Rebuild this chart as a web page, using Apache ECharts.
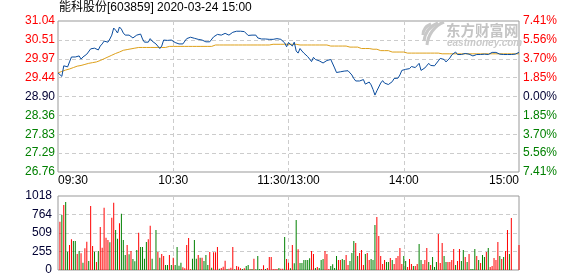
<!DOCTYPE html>
<html><head><meta charset="utf-8">
<script src="https://cdn.jsdelivr.net/npm/echarts@6/dist/echarts.min.js"></script>
<style>html,body{margin:0;padding:0;background:#fff}#c{width:578px;height:276px}</style>
</head><body><div id="c"></div>
<script>
const titleText = '能科股份[603859] 2020-03-24 15:00';
const priceTickLabels = ['26.76','27.29','27.83','28.36','28.90','29.44','29.97','30.51','31.04'];
const pctTickLabels = ['7.41%','5.56%','3.70%','1.85%','0.00%','1.85%','3.70%','5.56%','7.41%'];
const volTickLabels = ['0','255','509','764','1018'];
const timeTickIdx = [0, 60, 120, 180, 240];
const timeTickLabels = ['09:30','10:30','11:30/13:00','14:00','15:00'];
const priceMin = 26.76, priceMax = 31.04, volMax = 1018;

const price = [
29.57,29.54,29.47,29.77,29.82,29.74,29.88,30.02,29.99,30.02,
29.99,30.05,29.96,30.02,29.99,30.10,30.08,30.25,30.30,30.27,
30.25,30.22,30.33,30.39,30.47,30.46,30.44,30.53,30.64,30.84,
30.78,30.70,30.87,30.81,30.70,30.64,30.69,30.64,30.59,30.56,
30.60,30.64,30.67,30.67,30.53,30.44,30.39,30.44,30.54,30.47,
30.44,30.39,30.36,30.26,30.33,30.50,30.54,30.49,30.52,30.50,
30.48,30.43,30.41,30.39,30.39,30.39,30.42,30.54,30.57,30.58,
30.57,30.55,30.53,30.52,30.52,30.50,30.48,30.45,30.40,30.45,
30.48,30.59,30.61,30.66,30.67,30.64,30.67,30.69,30.66,30.64,
30.67,30.72,30.74,30.75,30.75,30.75,30.75,30.74,30.70,30.63,
30.59,30.64,30.69,30.64,30.56,30.51,30.53,30.55,30.53,30.52,
30.52,30.52,30.52,30.53,30.54,30.55,30.52,30.47,30.42,30.31,
30.43,30.47,30.33,30.44,30.19,30.13,30.26,30.19,30.13,30.09,
30.03,29.98,29.89,30.01,29.95,29.93,29.91,29.86,29.85,29.88,
29.92,29.95,29.95,29.91,29.71,29.58,29.58,29.60,29.63,29.62,
29.61,29.63,29.60,29.51,29.41,29.34,29.34,29.34,29.35,29.38,
29.25,29.28,29.31,29.23,29.10,28.94,29.06,29.17,29.28,29.35,
29.28,29.31,29.24,29.28,29.32,29.41,29.40,29.42,29.51,29.64,
29.61,29.67,29.64,29.69,29.75,29.77,29.72,29.77,29.84,29.64,
29.67,29.71,29.74,29.84,29.78,29.79,29.77,29.75,29.91,29.98,
30.03,29.95,29.88,29.89,29.99,30.08,30.12,30.16,30.09,30.12,
30.09,30.05,30.12,30.08,30.10,30.12,30.05,30.02,30.09,30.12,
30.09,30.12,30.10,30.12,30.09,30.12,30.15,30.16,30.15,30.12,
30.10,30.09,30.09,30.09,30.09,30.09,30.09,30.09,30.10,30.12,
30.15
];

const avgPrice = [
29.57,29.59,29.61,29.63,29.65,29.66,29.68,29.70,29.72,29.74,
29.76,29.77,29.78,29.80,29.81,29.82,29.84,29.85,29.86,29.87,
29.88,29.90,29.92,29.94,29.97,29.99,30.02,30.04,30.07,30.09,
30.12,30.14,30.16,30.18,30.21,30.22,30.23,30.24,30.25,30.26,
30.27,30.27,30.29,30.29,30.29,30.29,30.29,30.29,30.29,30.29,
30.29,30.29,30.29,30.29,30.29,30.29,30.29,30.32,30.32,30.32,
30.32,30.32,30.32,30.32,30.32,30.32,30.32,30.32,30.32,30.32,
30.32,30.32,30.32,30.32,30.32,30.32,30.32,30.32,30.32,30.32,
30.32,30.36,30.36,30.36,30.36,30.36,30.36,30.36,30.36,30.36,
30.36,30.36,30.36,30.36,30.36,30.36,30.36,30.36,30.36,30.36,
30.36,30.36,30.36,30.36,30.36,30.36,30.36,30.36,30.36,30.36,
30.36,30.38,30.38,30.38,30.38,30.38,30.38,30.38,30.38,30.38,
30.38,30.38,30.38,30.38,30.38,30.38,30.36,30.36,30.36,30.36,
30.36,30.36,30.36,30.36,30.36,30.36,30.36,30.36,30.36,30.36,
30.36,30.33,30.33,30.33,30.33,30.33,30.33,30.33,30.33,30.33,
30.33,30.30,30.30,30.30,30.30,30.30,30.30,30.26,30.26,30.26,
30.26,30.26,30.26,30.24,30.24,30.24,30.24,30.24,30.20,30.20,
30.20,30.20,30.20,30.16,30.16,30.16,30.16,30.16,30.16,30.16,
30.16,30.16,30.13,30.13,30.13,30.13,30.13,30.13,30.13,30.13,
30.13,30.13,30.13,30.13,30.13,30.13,30.13,30.13,30.13,30.13,
30.11,30.11,30.11,30.11,30.11,30.11,30.11,30.11,30.11,30.11,
30.11,30.11,30.11,30.11,30.11,30.11,30.11,30.11,30.11,30.11,
30.11,30.11,30.11,30.11,30.11,30.11,30.11,30.11,30.11,30.11,
30.11,30.11,30.11,30.11,30.11,30.11,30.11,30.11,30.11,30.11,
30.11
];

const volume = [
0,665,757,894,935,252,344,422,399,399,
220,261,229,101,298,390,124,880,330,252,
110,261,592,307,858,445,413,381,720,926,
550,431,642,775,413,206,344,216,261,151,
119,275,514,316,316,156,385,422,610,156,
9,550,248,170,220,193,69,69,206,69,
170,69,316,60,101,37,23,344,440,9,
156,413,156,206,170,170,124,206,69,248,
32,243,243,316,18,28,46,128,14,18,
32,316,9,55,46,23,14,23,55,69,
14,14,156,9,193,14,14,64,14,28,
179,179,14,14,14,28,18,18,454,151,
101,23,344,92,688,284,96,96,138,138,
138,161,261,220,28,41,28,138,151,261,
220,14,55,78,28,193,138,138,151,138,
206,69,124,234,399,371,193,234,275,69,
220,234,138,151,138,619,729,468,193,83,
138,110,110,165,138,83,165,193,303,83,
193,124,41,151,83,55,55,83,358,138,
83,138,303,110,69,179,41,110,495,96,
371,193,110,110,110,138,289,69,124,289,
124,275,179,110,220,14,14,289,193,138,
96,206,179,248,303,41,55,165,138,385,
193,151,179,261,550,220,715,0,0,0,
344
];

const volDir = [
1,1,-1,1,-1,-1,1,1,-1,-1,
1,-1,1,-1,1,1,-1,1,1,-1,
1,-1,1,1,1,1,1,-1,1,1,
-1,-1,1,-1,-1,-1,1,-1,1,-1,
-1,-1,1,-1,-1,-1,-1,1,1,-1,
-1,-1,1,-1,1,1,-1,-1,1,-1,
1,-1,-1,-1,-1,1,1,1,1,1,
-1,-1,-1,1,-1,1,-1,-1,-1,1,
-1,1,1,1,-1,1,1,1,-1,1,
1,1,-1,1,1,1,-1,1,-1,-1,
1,-1,1,-1,-1,-1,1,1,-1,1,
1,1,1,1,1,-1,1,1,-1,1,
1,-1,1,-1,-1,1,-1,-1,-1,-1,
-1,-1,1,1,-1,1,-1,-1,-1,1,
1,1,-1,-1,-1,-1,1,1,-1,-1,
1,1,-1,-1,-1,1,-1,1,1,1,
-1,1,1,-1,-1,-1,1,1,1,1,
1,-1,-1,1,-1,1,1,1,1,1,
-1,-1,1,1,1,-1,1,1,-1,-1,
1,1,1,-1,1,-1,-1,-1,1,1,
1,-1,-1,1,1,1,1,-1,1,1,
-1,-1,1,-1,1,-1,-1,-1,1,-1,
1,-1,-1,1,-1,1,1,1,1,1,
-1,1,-1,1,1,-1,1,1,1,1,
1
];

// minute categories: 09:30-11:30 and 13:01-15:00
const times = [];
function pad(n){return (n<10?'0':'')+n;}
for (let m = 9*60+30; m <= 11*60+30; m++) times.push(pad(Math.floor(m/60))+':'+pad(m%60));
for (let m = 13*60+1; m <= 15*60; m++) times.push(pad(Math.floor(m/60))+':'+pad(m%60));

const RED = '#ff0000', GREEN = '#008000', DARK = '#000033';
const FONT = "'Liberation Sans', 'Noto Sans CJK SC', sans-serif";
const gridLine = {color:'#cccccc', type:[4,3], width:1};
const wm = '#c8c8c8';

const chart = echarts.init(document.getElementById('c'), null, {renderer:'canvas'});
chart.setOption({
  animation: false,
  backgroundColor: '#ffffff',
  title: {text: titleText, left: 59, top: 2, padding: 0, textStyle:{fontSize:12, fontWeight:'normal', color:'#000', fontFamily:FONT}},
  grid: [
    {left:58, top:21, width:461, height:151, show:true, borderColor:'#999', borderWidth:1, backgroundColor:'transparent'},
    {left:58, top:196, width:461, height:74, show:true, borderColor:'#999', borderWidth:1, backgroundColor:'transparent'}
  ],
  xAxis: [
    {type:'category', gridIndex:0, data:times, boundaryGap:false,
     axisLine:{show:false}, axisTick:{show:false},
     axisLabel:{
       interval:(i)=> timeTickIdx.indexOf(i) >= 0,
       margin:3, fontSize:12, fontFamily:FONT, color:'#000',
       formatter:(v, i)=>{
         const k = timeTickIdx.indexOf(i);
         if (k === 0) return '{l|' + timeTickLabels[k] + '}';
         if (k === timeTickIdx.length-1) return '{r|' + timeTickLabels[k] + '}';
         return timeTickLabels[k];
       },
       rich:{
         l:{padding:[0,0,0,30], fontSize:12, fontFamily:FONT, color:'#000'},
         r:{padding:[0,30,0,0], fontSize:12, fontFamily:FONT, color:'#000'}
       }
     },
     splitLine:{show:true, interval:(i)=> i===60||i===120||i===180, lineStyle:gridLine}},
    {type:'category', gridIndex:1, data:times, boundaryGap:false,
     axisLine:{show:false}, axisTick:{show:false}, axisLabel:{show:false},
     splitLine:{show:true, interval:(i)=> i===60||i===120||i===180, lineStyle:gridLine}}
  ],
  yAxis: [
    {type:'category', gridIndex:0, data:priceTickLabels, boundaryGap:false, position:'left',
     axisLine:{show:false}, axisTick:{show:false},
     axisLabel:{margin:3, fontSize:12, fontFamily:FONT, color:(v,i)=> i<4?GREEN:(i===4?DARK:RED)},
     splitLine:{show:true, interval:(i)=> i>0 && i<8, lineStyle:gridLine}},
    {type:'category', gridIndex:0, data:pctTickLabels, boundaryGap:false, position:'right',
     axisLine:{show:false}, axisTick:{show:false},
     axisLabel:{margin:4, fontSize:12, fontFamily:FONT, color:(v,i)=> i<4?GREEN:(i===4?DARK:RED)},
     splitLine:{show:false}},
    {type:'value', gridIndex:0, min:priceMin, max:priceMax, show:false},
    {type:'value', gridIndex:1, min:0, max:volMax, show:false},
    {type:'category', gridIndex:1, data:volTickLabels, boundaryGap:false, position:'left',
     axisLine:{show:false}, axisTick:{show:false},
     axisLabel:{margin:6, fontSize:12, fontFamily:FONT, color:DARK},
     splitLine:{show:true, interval:(i)=> i>0 && i<4, lineStyle:gridLine}}
  ],
  graphic: [
    {type:'bezierCurve', z:1, shape:{x1:427,y1:45,cpx1:428,cpy1:35,cpx2:434,cpy2:26,x2:444,y2:22}, style:{fill:null, stroke:wm, lineWidth:3}},
    {type:'bezierCurve', z:1, shape:{x1:424,y1:41,cpx1:425,cpy1:33,cpx2:430,cpy2:26,x2:438,y2:23}, style:{fill:null, stroke:wm, lineWidth:3}},
    {type:'bezierCurve', z:1, shape:{x1:423,y1:35,cpx1:423,cpy1:30,cpx2:426,cpy2:26,x2:431,y2:24}, style:{fill:null, stroke:wm, lineWidth:3}},
    {type:'text', z:1, left:446, top:23, style:{text:'东方财富网', font:"bold 14.5px 'Noto Sans CJK SC', sans-serif", fill:'#c4c4c4'}},
    {type:'text', z:1, left:447, top:38, style:{text:'eastmoney.com', font:"italic bold 10px 'Liberation Sans', sans-serif", fill:'#cacaca'}}
  ],
  series: [
    {type:'line', name:'price', xAxisIndex:0, yAxisIndex:2, data:price, showSymbol:false, symbol:'none',
     lineStyle:{color:'#0a4c9e', width:1}, z:5},
    {type:'line', name:'avg', xAxisIndex:0, yAxisIndex:2, data:avgPrice, showSymbol:false, symbol:'none',
     lineStyle:{color:'#dea01a', width:1}, z:4},
    {type:'bar', name:'volume', xAxisIndex:1, yAxisIndex:3, barWidth:1,
     data: volume.map((v,i)=>({value:v, itemStyle:{color: volDir[i] > 0 ? RED : GREEN}}))}
  ]
});
</script></body></html>
